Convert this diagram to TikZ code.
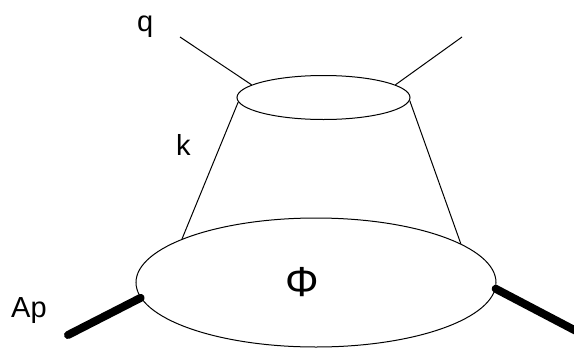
\documentclass[tikz,border=0pt]{standalone}
\usepackage{fontspec}
\setmainfont{Liberation Sans}
\usetikzlibrary{shapes.geometric}
\begin{document}
\begin{tikzpicture}[x=1pt,y=-1pt,
  blob/.style={draw, ellipse, inner sep=0pt, line width=1pt},
  thin line/.style={line width=1pt},
  thick line/.style={line width=8pt, line cap=round},
  lbl/.style={inner sep=0pt, font=\fontsize{29}{32}\selectfont}]
\useasboundingbox (0,0) rectangle (574,354);
\node[blob, minimum width=173pt, minimum height=44pt] (top) at (323.5,97.5) {};
\node[blob, minimum width=360pt, minimum height=129pt] (big) at (316,282.5) {};
\coordinate (qend) at (180,37);
\coordinate (rend) at (462,37);
\coordinate (apend) at (68,335);
\coordinate (outend) at (580,333);
\draw[thin line] (qend) -- (top.170.6);
\draw[thin line] (rend) -- (top.10.4);
\draw[thin line] (top.183.6) -- (big.162.9);
\draw[thin line] (top.358.3) -- (big.15.6);
\draw[thick line] (apend) -- (big.185.1);
\draw[thick line] (big.358.2) -- (outend);
\node[lbl, anchor=base west] (q) at (137,31) {q};
\node[lbl, anchor=base west] (k) at (176,155) {k};
\node[lbl, anchor=base west] (ap) at (11,317) {Ap};
\node[inner sep=0pt, anchor=base, font=\fontsize{42}{46}\selectfont] (phi) at (302,296) {Φ};
\end{tikzpicture}
\end{document}
